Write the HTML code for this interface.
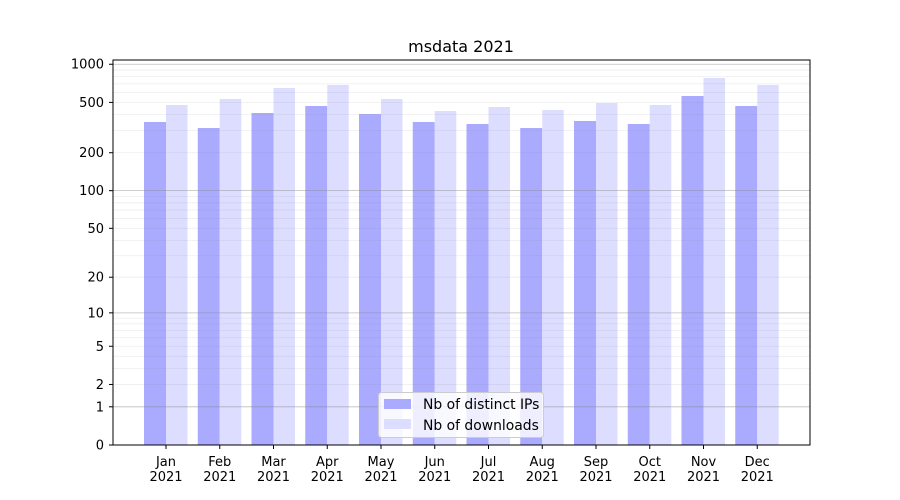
<!DOCTYPE html>
<html><head><meta charset="utf-8"><style>body{margin:0;background:#fff}svg{display:block}</style></head>
<body>
<svg id="s" width="900" height="500" xmlns="http://www.w3.org/2000/svg" font-family="DejaVu Sans, Liberation Sans, sans-serif" font-size="13"></svg>
<script>
const s=document.getElementById('s');let h='';
const Y=v=>445-126.9*Math.log10(v+1);
const months=['Jan','Feb','Mar','Apr','May','Jun','Jul','Aug','Sep','Oct','Nov','Dec'];
const dk=[122,128,113,106,114,122,124,128,121,124,96,106];
const lt=[105,99,88,85,99,111,107,110,103,105,78,85];
for(let i=0;i<12;i++){const c=166+i*53.75;
h+=`<rect x="${c-22}" y="${dk[i]}" width="22" height="${445-dk[i]}" fill="#aaaaff"/>`;
h+=`<rect x="${c}" y="${lt[i]}" width="21.5" height="${445-lt[i]}" fill="#ddddff"/>`;
h+=`<line x1="${c}" x2="${c}" y1="445" y2="449" stroke="#000"/>`;
h+=`<text x="${c}" y="466" text-anchor="middle">${months[i]}</text><text x="${c}" y="481" text-anchor="middle">2021</text>`;}
for(const d of [1,10,100]){for(let m=2;m<=9;m++){const y=Y(m*d);h+=`<line x1="113" x2="810" y1="${y}" y2="${y}" stroke="#888" stroke-opacity="0.15" stroke-width="0.8"/>`;}}
for(const v of [1,10,100,1000]){const y=Y(v);h+=`<line x1="113" x2="810" y1="${y}" y2="${y}" stroke="#888" stroke-opacity="0.55" stroke-width="0.8"/>`;}
for(const v of [0,1,2,5,10,20,50,100,200,500,1000]){const y=Y(v);
h+=`<line x1="109" x2="113" y1="${y}" y2="${y}" stroke="#000"/><text x="104" y="${y+4.5}" text-anchor="end">${v}</text>`;}
h+=`<rect x="113" y="60" width="697" height="385" fill="none" stroke="#000" stroke-width="1"/>`;
h+=`<text x="461" y="52" text-anchor="middle" font-size="16">msdata 2021</text>`;
h+=`<rect x="378.5" y="392.5" width="165" height="45" rx="3" fill="#fff" fill-opacity="0.8" stroke="#ccc"/>`;
h+=`<rect x="384" y="399" width="27" height="10" fill="#aaaaff"/><rect x="384" y="419" width="27" height="10" fill="#ddddff"/>`;
h+=`<text x="423" y="409" font-size="13.9">Nb of distinct IPs</text><text x="423" y="430" font-size="13.9">Nb of downloads</text>`;
s.innerHTML=h;
</script>
</body></html>
